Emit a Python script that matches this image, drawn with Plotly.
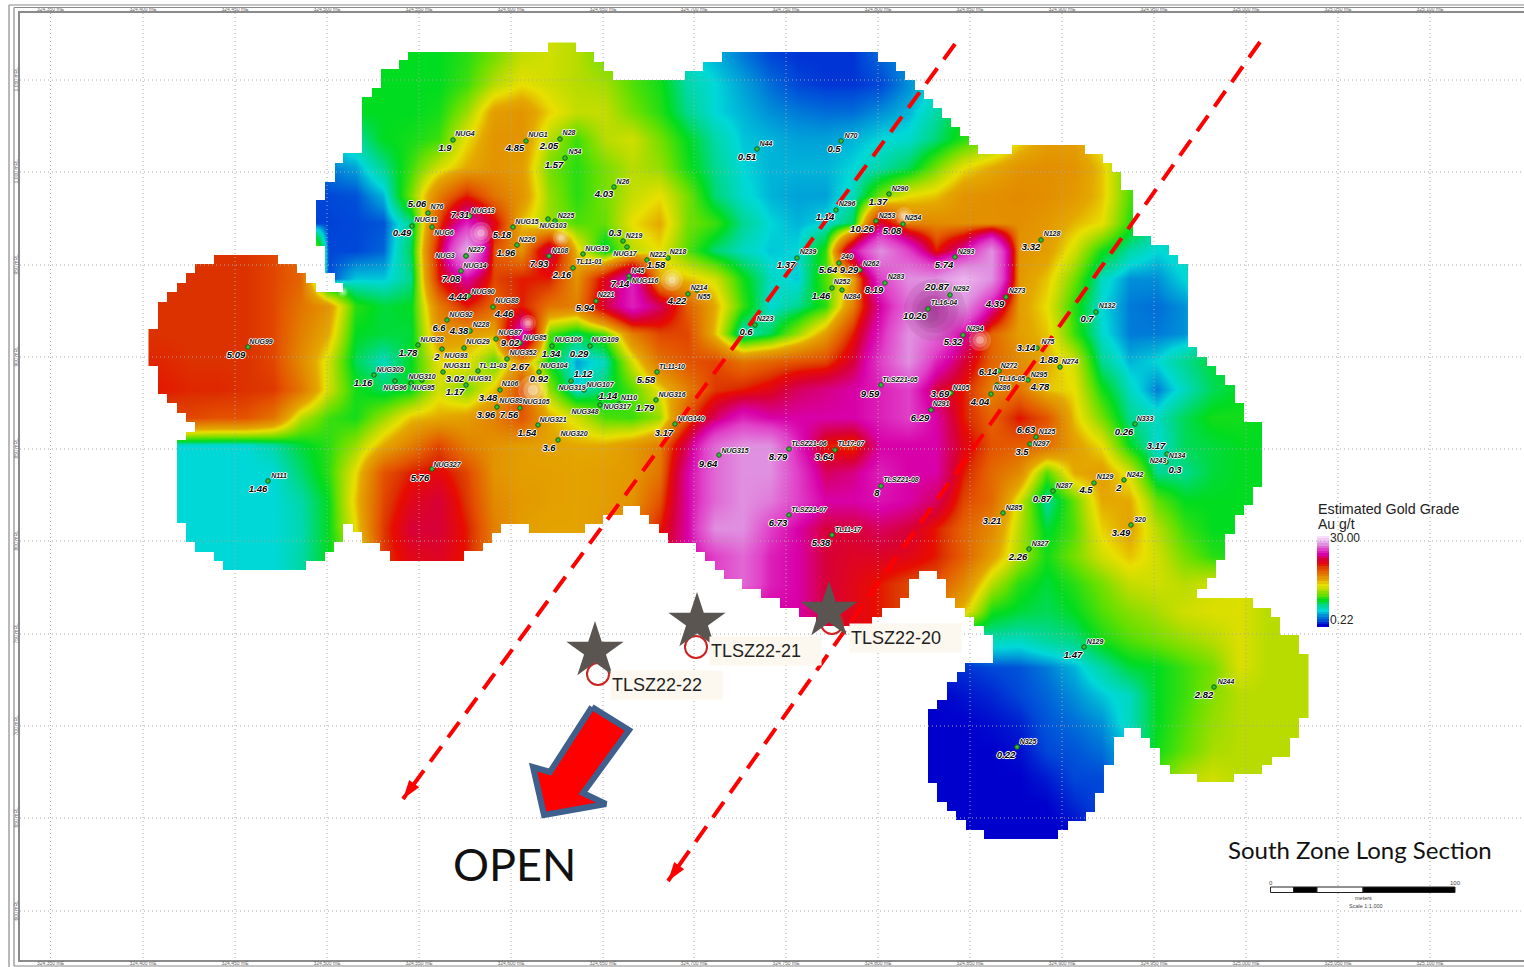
import plotly.graph_objects as go

# ---- section coordinates: 92 section units = 50 m ----
easting_ticks = [50.5, 143, 235, 327, 419, 511, 603, 694, 786, 878, 970, 1062, 1154, 1246, 1338, 1430]
easting_labels = ["324,350 mE", "324,400 mE", "324,450 mE", "324,500 mE", "324,550 mE", "324,600 mE", "324,650 mE", "324,700 mE", "324,750 mE",
                  "324,800 mE", "324,850 mE", "324,900 mE", "324,950 mE", "325,000 mE", "325,050 mE", "325,100 mE"]
elevation_ticks = [80, 172, 265, 357, 449, 541, 634, 726, 818, 911]
elevation_labels = ["1,050 mRL", "1,000 mRL", "950 mRL", "900 mRL", "850 mRL", "800 mRL", "750 mRL", "700 mRL", "650 mRL", "600 mRL"]

# ---- estimated grade (Au g/t) on the block-model nodes ----
grid_x0, grid_dx = 162.3, 27.63
grid_y0, grid_dy = 56.4, 27.75
F = [0.7] * 10 + [3.0] * 10
grade_grid = [
 [1.4,1.4,1.4,1.4,1.4,1.4,1.4,1.4,1.4,1.4, 1.4,1.6,2.0,2.5,2.6,2.4,2.0,1.9,1.4,0.7, 0.6,0.45,0.33,0.3,0.3,0.3,0.4,0.5,0.7,1.0, 1.4,1.4,1.4,1.4,1.4,1.4,1.4,1.4,1.4,1.4, 1.4,1.4],
 [1.4,1.4,1.4,1.4,1.4,1.4,1.4,1.4,1.4,1.4, 1.4,1.7,2.4,2.8,2.6,2.4,2.3,1.8,1.5,0.9, 0.7,0.55,0.42,0.33,0.3,0.3,0.33,0.5,0.7,1.0, 1.4,1.4,1.4,1.4,1.4,1.4,1.4,1.4,1.4,1.4, 1.4,1.4],
 [1.4,1.4,1.4,1.4,1.4,1.4,1.4,1.4,1.4,1.4, 1.5,2.2,3.4,3.6,2.9,2.5,2.5,2.0,1.6,1.0, 0.7,0.6,0.5,0.45,0.42,0.42,0.5,0.6,0.9,1.4, 1.6,1.8,1.9,1.9,1.8,1.4,1.4,1.4,1.4,1.4, 1.4,1.4],
 [1.0,1.0,1.0,1.0,1.0,1.0,0.7,0.9,1.4,1.5, 1.7,2.8,3.6,3.6,2.4,1.7,2.4,2.6,2.0,1.4, 0.9,0.65,0.6,0.55,0.55,0.6,0.7,0.75,1.1,1.6, 2.0,2.8,3.4,3.4,2.6,1.4,1.4,1.4,1.4,1.4, 1.4,1.4],
 [0.4,0.4,0.4,0.4,0.4,0.4,0.45,0.55,1.0,1.7, 2.6,3.2,3.6,3.4,2.0,1.6,2.0,2.4,2.2,1.5, 1.0,0.7,0.6,0.6,0.6,0.7,0.9,1.2,2.0,2.8, 3.2,3.6,3.7,3.6,3.0,1.8,1.4,1.4,1.4,1.4, 1.4,1.4],
 [0.33,0.33,0.33,0.33,0.33,0.33,0.33,0.35,0.6,2.0, 4.0,5.5,4.2,3.6,2.2,1.6,2.0,2.5,2.8,2.0, 1.1,0.75,0.6,0.55,0.55,0.8,2.0,2.8,3.0,3.6, 3.7,3.8,3.7,3.5,3.0,1.8,1.4,1.4,1.4,1.4, 1.4,1.4],
 [0.32,0.32,0.32,0.32,0.32,0.32,0.32,0.33,0.36,1.0, 5.0,9,6,3.0,2.2,1.8,1.9,2.8,3.2,2.0, 1.7,1.0,0.7,0.6,0.7,1.2,6.5,4.0,3.8,3.7, 3.7,3.7,3.5,3.1,2.8,1.6,0.9,1.2,1.2,1.2, 1.4,1.4],
 [5.3,5.3,5.3,5.3,5.0,4.5,0.33,0.33,0.4,1.2, 5.8,16,4.8,3.6,7,3.0,1.2,2.4,2.8,1.8, 1.1,0.8,0.65,0.7,1.6,8,14,10,5.5,8, 14,3.6,3.4,2.6,1.5,0.9,0.7,0.8,1.0,1.2, 1.4,1.4],
 [5.3,5.3,5.3,5.3,5.0,4.5,0.33,0.65,0.65,1.0, 5.5,8,5.0,5.5,5.5,3.6,6,9,3.2,3.0, 2.6,1.5,0.8,0.65,1.8,3.2,10,14,14,18, 14,3.5,3.0,2.0,0.8,0.5,0.5,0.7,1.0,1.2, 1.4,1.4],
 [5.3,5.3,5.3,5.3,5.0,4.2,3.6,1.6,1.3,1.4, 4.0,5.5,4.4,5.5,4.2,4.0,6.5,9,7,4.6, 3.2,1.7,0.7,1.0,1.6,4.0,8,12,10,14, 8,3.4,2.8,1.6,0.7,0.45,0.42,0.5,0.9,1.2, 1.4,1.4],
 [5.3,5.3,5.3,5.3,5.0,4.0,3.2,1.4,1.3,1.3, 3.6,3.4,3.2,9,1.8,1.2,1.8,4.0,5.0,5.0, 3.0,0.75,1.2,2.2,3.4,5.5,9,14,12,8, 4.5,3.4,3.0,1.7,0.75,0.45,0.45,0.5,0.9,1.2, 1.4,1.4],
 [5.4,5.3,5.3,5.3,5.0,3.8,2.6,1.2,0.8,1.4, 2.8,2.8,1.8,3.6,1.4,0.55,0.8,2.6,4.2,4.8, 5,4.2,4.5,4.8,5.0,6.5,10,14,9,6.5, 4.5,3.8,3.2,2.6,1.0,0.6,0.7,1.0,1.3,1.4, 1.4,1.4],
 [5.5,5.4,5.4,5.3,5.2,4.2,2.6,1.5,1.2,1.4, 2.6,2.0,3.0,5,2.2,0.7,1.2,1.8,2.8,4.0, 5.2,5.5,6,7,7.5,8,9,10,6.5,5.5, 3.9,4.2,3.0,2.8,1.5,0.8,0.45,0.8,1.2,1.4, 1.4,1.4],
 [5,5,4.8,4.8,4.2,2.4,1.7,1.5,2.2,3.0, 3.2,3.4,4.0,4.8,3.2,2.6,1.8,1.7,2.2,4.8, 7,9,8,8,8,8,9,10,8,5.5, 4.5,5.6,4.8,3.0,2.0,1.0,0.8,1.2,1.5,1.5, 1.4,1.4],
 [0.7,0.7,0.7,0.7,0.9,1.3,1.6,2.2,3.2,4.0, 5.0,4.0,3.6,3.4,3.3,3.2,3.2,3.5,4.0,7, 12,14,14,9,5.5,5.0,8,8,8,6, 4.8,4.6,4.4,3.4,2.8,1.4,0.7,1.2,1.3,1.4, 1.4,1.4],
 [0.7,0.7,0.7,0.7,0.7,1.1,1.6,2.8,4.8,5.5, 5.8,5.0,3.6,3.4,3.4,3.3,3.4,3.5,4.2,8, 12,14,14,10,7,7.5,9,8,8,5.5, 4.4,3.8,1.8,3.2,3.4,2.6,1.0,1.0,1.3,1.4, 1.4,1.4],
 [0.7,0.7,0.7,0.7,0.7,0.9,1.4,3.0,5.0,6.0, 6.5,5.2,3.8,3.5,3.4,3.3,3.4,3.6,4.8,8, 12,14,13,10,8,8,8.5,8,7,5, 4.4,2.6,0.9,1.9,3.2,3.2,1.9,1.4,1.4,1.4, 1.4,1.4],
 [0.7,0.7,0.7,0.7,0.7,0.85,1.4,2.8,5.2,6.5, 6.5,5.5,4.0,3.4,3.3,3.3,3.5,4,5.5,8, 14,14,10,8,6.5,6.5,7,6.5,5.5,4.5, 3.8,2.4,1.3,1.8,2.9,3.3,2.4,1.7,1.4,1.4, 1.4,1.4],
 [0.7,0.7,0.7,0.7,0.7,0.9,1.4,2.0,5.2,6, 6.2,5.5,4.0,3.4,3.3,3.3,3.6,4.5,6,8, 10,12,9,8,6.5,6.2,6.2,6,5.5,4.6, 3.4,2.3,1.5,2.0,2.6,3.0,2.6,2.0,1.6,1.5, 1.4,1.4],
 [0.7,0.7,0.7,0.7,0.7,0.9,1.4,2,5,6, 6,5,4,3.4,3.3,3.3,3.6,4.5,6,8, 10,12,9,8,6.5,6,5.5,5,4.8,3.8, 2.4,1.6,1.3,1.6,2.0,2.5,2.6,2.4,2.6,2.7, 2.4,2.4],
 F + [8,8,8,8,6.5,6,5.5,5,4,3, 1.5,1.3,1.2,1.4,1.8,2.1,2.3,2.6,2.7,2.7, 2.4,2.4],
 F + [8,8,8,8,6.5,6,5.5,4,0.3,0.35, 0.85,0.8,0.95,1.05,1.5,1.8,2.0,2.2,2.4,2.7, 2.4,2.4],
 F + [0.3,0.3,0.3,0.3,0.3,0.3,0.3,0.3,0.3,0.3, 0.33,0.36,0.45,0.6,0.9,1.3,1.4,1.7,2.0,2.7, 2.4,2.4],
 F + [0.22,0.22,0.22,0.22,0.22,0.22,0.22,0.22,0.22,0.25, 0.28,0.33,0.4,0.5,0.65,0.8,1.4,1.7,2.1,2.4, 2.4,2.4],
 F + [0.22,0.22,0.22,0.22,0.22,0.22,0.22,0.22,0.22,0.22, 0.24,0.27,0.36,0.42,0.5,0.8,1.4,1.8,2.2,2.4, 2.4,2.4],
 F + [0.22,0.22,0.22,0.22,0.22,0.22,0.22,0.22,0.22,0.22, 0.22,0.24,0.33,0.36,0.42,0.6,1.5,1.9,2.3,2.4, 2.4,2.4],
 F + [0.22,0.22,0.22,0.22,0.22,0.22,0.22,0.22,0.22,0.22, 0.22,0.22,0.26,0.33,0.33,0.6,1.8,2.4,2.6,2.4, 2.4,2.4],
 F + [0.22,0.22,0.22,0.22,0.22,0.22,0.22,0.22,0.22,0.22, 0.22,0.22,0.22,0.28,0.33,0.6,1.8,2.4,2.4,2.4, 2.4,2.4],
 F + [0.22,0.22,0.22,0.22,0.22,0.22,0.22,0.22,0.22,0.22, 0.22,0.22,0.22,0.22,0.3,0.6,1.8,2.4,2.4,2.4, 2.4,2.4],
]

# colour ramp: grade -> colour
scale_grades = [0.22, 0.33, 0.5, 0.7, 1.0, 1.4, 1.9, 2.4, 2.8, 3.2, 4.0, 4.8, 5.3, 5.6, 6.5, 8, 10, 14, 20, 30]
scale_colours = ["#0000cc", "#0048d8", "#0090d8", "#00d8d8", "#00d890", "#00dc20", "#64e000", "#b8dc00", "#e8e000", "#e4a800",
                 "#e28000", "#e45400", "#dc3200", "#e80c00", "#d80038", "#d800a8", "#e040c8", "#e090e0", "#f4c8f4", "#ffffff"]
legend_levels = [30, 24, 20, 17, 14, 12, 10, 9, 8, 7.2, 6.5, 6, 5.5, 5.1, 4.8, 4.4, 4.0, 3.6, 3.3, 3.0, 2.8, 2.6, 2.4, 2.1, 1.9, 1.6, 1.4, 1.2,
                 1.0, 0.85, 0.7, 0.6, 0.5, 0.42, 0.35, 0.28, 0.22]

# block-model footprint (stepped outline of the estimated area)
outline = [(362,153),(362,97),(372,97),(372,88),(381,88),(381,69),(399,69),(399,60),(408,60),(408,52),(548,52),(548,42),(576,42),(576,52),(594,52),(594,62),(604,62),(604,71),(613,71),(613,80),
 (685,80),(685,71),(703,71),(703,62),(722,62),(722,52),(878,52),(878,62),(896,62),(896,71),(905,71),(905,80),(915,80),(915,90),(924,90),(924,99),(933,99),(933,108),(942,108),(942,118),(951,118),(951,127),(960,127),(960,136),(969,136),(969,145),(978,145),(978,154),(1012,154),(1012,145),(1085,145),(1085,154),(1103,154),(1103,163),(1112,163),(1112,172),(1121,172),(1121,190),(1133,190),(1133,236),(1151,236),(1151,245),(1169,245),(1169,255),(1178,255),(1178,264),(1188,264),(1188,347),(1197,347),(1197,357),(1207,357),(1207,366),(1216,366),(1216,375),(1225,375),(1225,385),(1235,385),(1235,403),(1244,403),(1244,422),(1262,422),(1262,487),(1253,487),(1253,505),(1244,505),(1244,515),(1235,515),(1235,534),(1225,534),(1225,560),(1216,560),(1216,578),(1207,578),(1207,589),(1197,589),(1197,598),(1253,598),(1253,608),(1271,608),(1271,617),(1280,617),(1280,635),(1299,635),(1299,654),(1309,654),(1309,718),(1299,718),(1299,738),(1290,738),(1290,757),(1272,757),(1272,765),(1262,765),(1262,774),(1234,774),(1234,782),(1197,782),(1197,774),(1170,774),(1170,765),(1160,765),(1160,748),(1150,748),(1150,738),(1141,738),(1141,728),(1124,728),(1124,737),(1114,737),(1114,765),(1104,765),(1104,793),(1095,793),(1095,812),(1086,812),(1086,821),(1068,821),(1068,830),(1058,830),(1058,839),(984,839),(984,830),(966,830),(966,820),(956,820),(956,811),(947,811),(947,802),(937,802),(937,783),(928,783),(928,709),(937,709),(937,700),(947,700),(947,682),(957,682),(957,672),(965,672),(965,663),(993,663),(993,635),(984,635),(984,626),(974,626),(974,617),(965,617),(965,608),(955,608),(955,598),(946,598),(946,579),(937,579),(937,571),(919,571),(919,579),(909,579),(909,598),(900,598),(900,608),(882,608),(882,617),(872,617),(872,626),(816,626),(816,617),(799,617),(799,608),(780,608),(780,598),(761,598),(761,589),(742,589),(742,579),(724,579),(724,570),(715,570),(715,561),(705,561),(705,552),(696,552),(696,543),(668,543),(668,533),(659,533),(659,524),(649,524),(649,515),(640,515),(640,506),(623,506),(623,515),(603,515),(603,524),(585,524),(585,533),(529,533),(529,524),(501,524),(501,533),(492,533),(492,543),(483,543),(483,551),(464,551),(464,561),(390,561),(390,551),(380,551),(380,543),(362,543),(362,532),(353,532),(353,524),(343,524),(343,542),(334,542),(334,552),(325,552),(325,561),(306,561),(306,570),(223,570),(223,561),(214,561),(214,552),(195,552),(195,542),(186,542),(186,523),(177,523),(177,440),(186,440),(186,432),(195,432),(195,422),(186,422),(186,413),(177,413),(177,403),(167,403),(167,394),(158,394),(158,366),(148,366),(148,329),(158,329),(158,302),(167,302),(167,292),(177,292),(177,283),(186,283),(186,273),(195,273),(195,264),(214,264),(214,255),(278,255),(278,264),(297,264),(297,273),(306,273),(306,283),(316,283),(316,292),(343,292),(343,283),(335,283),(335,273),(325,273),(325,246),(316,246),(316,200),(325,200),(325,182),(335,182),(335,163),(343,163),(343,153),(362,153)]
# window left in the white surround for the legend ramp
legend_box_x = [1317, 1329, 1329, 1317, 1317]
legend_box_y = [533, 533, 627, 627, 533]

# bright / dark relief spots of the shaded surface
glow_x = [481, 561, 672, 533, 528, 980, 904, 343]
glow_y = [233, 238, 280, 390, 323, 340, 216, 292]
glow_size = [22, 16, 22, 30, 16, 22, 18, 10]
shade_x = [935, 935, 932, 930]
shade_y = [310, 310, 312, 314]
shade_size = [62, 46, 32, 18]

# ---- drill holes ----
hole_names = ["NUG4","NUG1","N28","N54","N26","N76","NUG13","NUG11","NUG6","N227","NUG3","NUG14","NUG15","N225","NUG103","N226","N108","NUG19","TL11-01","N219","NUG17","N222","N218","N45","NUG116","N214","N55","N221","NUG90","NUG88","NUG92","N228","NUG87","NUG85","NUG28","NUG29","NUG93","NUG352","NUG106","NUG109","NUG311","TL 11-03","NUG104","NUG309","NUG96","NUG310","NUG95","NUG91","N106","NUG89","NUG105","NUG319","NUG107","N110","NUG317","NUG348","NUG316","TL11-10","NUG321","NUG320","NUG140","N111","NUG99","NUG327","N44","N70","N290","N296","N253","N254","N239","240","N262","N293","N283","N252","N284","N292","TL16-04","N273","N223","N294","N128","N132","N75","N274","N272","N295","TL16-05","N286","N105","N291","TLSZ21-05","N125","N297","N333","N134","N243","N287","N129","N242","320","N285","N327","N129","N244","N325","NUG315","TLSZ21-06","TL17-07","TLSZ21-08","TLSZ21-07","TL11-17"]
hole_x = [453,526,560,565,614,428,470,412,432,466,466,461,513,555,548,517,549,583,573,623,627,647,668,629,629,688,697,596,469,493,447,470,496,520,418,464,442,507,552,590,443,478,539,374,395,422,411,466,500,497,520,571,584,619,600,600,656,657,538,558,675,268,248,432,757,841,889,836,876,903,797,839,860,955,885,832,842,950,928,1006,755,963,1041,1096,1037,1060,999,1028,997,991,951,931,881,1036,1030,1135,1167,1166,1053,1094,1124,1131,1003,1029,1084,1214,1017,719,789,835,881,789,832]
hole_y = [140,141,139,158,187,213,216,226,227,256,256,271,227,221,219,245,256,254,268,241,247,260,258,276,280,294,290,301,296,307,320,331,339,343,345,348,349,359,346,346,372,371,372,375,381,380,383,385,390,407,408,381,390,404,405,398,400,372,425,440,424,481,347,469,149,141,194,210,221,224,258,263,270,257,283,288,290,295,309,297,325,335,240,312,348,367,371,380,385,394,393,410,385,437,444,424,454,462,491,483,480,525,513,549,647,687,747,455,449,450,486,515,535]
name_x = [465,538,569,575,623,437,483,426,444,476,445,475,527,566,553,527,560,597,589,634,625,658,678,638,645,699,704,606,483,507,461,481,510,535,432,478,456,523,568,605,457,493,554,390,395,422,423,480,510,511,536,572,600,629,617,585,672,672,553,574,691,279,261,447,766,851,900,847,887,913,808,847,871,966,896,842,852,961,944,1017,765,975,1052,1107,1048,1070,1009,1039,1012,1002,961,941,900,1047,1041,1145,1177,1158,1064,1105,1135,1140,1014,1040,1095,1226,1028,735,809,851,901,809,848]
name_y = [134,135,133,152,182,207,211,220,233,250,256,266,222,216,226,240,251,249,262,236,254,255,252,271,281,288,297,295,292,301,315,325,333,338,340,342,356,353,340,340,366,366,366,370,388,377,388,379,384,401,402,388,385,398,407,412,395,367,420,434,419,476,342,465,144,136,189,204,216,218,252,257,264,252,277,282,297,289,303,291,319,329,234,306,342,362,366,375,379,388,388,404,380,432,444,419,456,461,486,477,475,520,508,544,642,682,742,451,444,444,480,510,530]

grade_text = ["1.9","4.85","2.05","1.57","4.03","5.06","7.31","0.49","7.08","5.18","1.96","7.93","2.16","0.3","1.58","7.14","4.22","5.94","4.44","4.46","6.6","4.38","9.02","1.78","2","2.67","1.34","0.29","3.02","0.92","1.16","1.17","3.48","3.96","7.56","1.12","1.14","1.79","5.58","1.54","3.6","3.17","1.46","5.09","5.76","0.51","0.5","1.37","1.14","10.26","5.08","1.37","5.64","9.29","5.74","8.19","1.46","20.87","10.26","4.39","0.6","5.32","3.32","0.7","3.14","1.88","6.14","4.78","4.04","3.69","6.29","9.59","6.63","3.5","0.26","3.17","0.3","0.87","4.5","2","3.49","3.21","2.26","1.47","2.82","0.22","9.64","8.79","3.64","8","6.73","5.38"]
grade_x = [445,515,549,554,604,417,460,402,451,502,506,539,562,615,656,620,677,585,458,504,439,459,510,408,437,520,551,579,455,539,363,455,488,486,509,583,608,645,646,527,549,664,258,236,420,747,834,878,825,862,892,786,828,849,944,874,821,937,915,995,746,953,1031,1087,1026,1049,988,1040,980,940,920,870,1026,1022,1124,1156,1175,1042,1086,1119,1121,992,1018,1073,1204,1006,708,778,824,877,778,821]
grade_y = [149,149,147,166,195,205,216,234,280,236,254,265,276,234,266,285,302,309,298,315,329,332,344,354,358,368,355,355,380,380,384,393,399,416,416,375,397,409,381,434,449,434,490,356,479,158,150,203,218,230,232,266,271,271,266,291,297,288,317,305,333,343,248,320,349,361,373,388,403,395,419,395,431,453,433,447,471,500,491,489,534,522,558,656,696,756,465,458,458,494,524,544]

# ---- drilling targets ----
target_names = ["TLSZ22-22", "TLSZ22-21", "TLSZ22-20"]
star_x = [595, 697, 829]
star_y = [651, 622, 611]
pierce_x = [598, 696, 832]
pierce_y = [674, 647, 623]
target_label_x = [612, 711, 851]
target_label_y = [685, 651, 638]

# ---- structural trends and open direction ----
trend1_x, trend1_y = [955, 403], [44, 799]
trend2_x, trend2_y = [1260, 668], [42, 881]
open_arrow_x = [592, 629, 583, 606, 544, 533, 550, 592]
open_arrow_y = [707, 730, 793, 804, 815, 767, 772, 707]

# ---- scale bar ----
scale_edges = [1270.5, 1293.5, 1317, 1363, 1455]
scale_fills = ["white", "black", "white", "black"]

fig = go.Figure()

# estimated grade surface
fig.add_trace(go.Heatmap(z=grade_grid, x0=grid_x0, dx=grid_dx, y0=grid_y0, dy=grid_dy, coloraxis="coloraxis",
                         zsmooth="best", hoverinfo="skip"))
# legend ramp (heatmaps sit below scatter layers, so the white surround keeps a window for it)
fig.add_trace(go.Heatmap(z=[[v] for v in legend_levels], x0=1323, dx=12, y0=534.3, dy=2.54, coloraxis="coloraxis",
                         zsmooth=False, hoverinfo="skip"))
# relief
fig.add_trace(go.Scatter(x=glow_x, y=glow_y, mode="markers", hoverinfo="skip",
                         marker=dict(size=glow_size, color="rgba(255,255,235,0.28)", line=dict(width=0))))
fig.add_trace(go.Scatter(x=glow_x, y=glow_y, mode="markers", hoverinfo="skip",
                         marker=dict(size=[s * 0.65 for s in glow_size], color="rgba(255,255,235,0.35)", line=dict(width=0))))
fig.add_trace(go.Scatter(x=glow_x, y=glow_y, mode="markers", hoverinfo="skip",
                         marker=dict(size=[s * 0.35 for s in glow_size], color="rgba(255,255,245,0.5)", line=dict(width=0))))
fig.add_trace(go.Scatter(x=shade_x, y=shade_y, mode="markers", hoverinfo="skip",
                         marker=dict(size=shade_size, color="rgba(70,50,70,0.14)", line=dict(width=0))))
# white surround with the footprint and the legend window cut out
ox = [p[0] for p in outline]
oy = [p[1] for p in outline]
fig.add_trace(go.Scatter(x=[20, 20, 1524, 1524, 20] + ox + [ox[0], 20] + legend_box_x + [20],
                         y=[13, 960, 960, 13, 13] + oy + [oy[0], 13] + legend_box_y + [13],
                         mode="lines", fill="toself", fillcolor="white", line=dict(width=0, simplify=False), hoverinfo="skip"))
# dotted grid over everything painted so far
gx, gy = [], []
for v in easting_ticks:
    gx += [v, v, None]
    gy += [13, 960, None]
for v in elevation_ticks:
    gx += [20, 1524, None]
    gy += [v, v, None]
fig.add_trace(go.Scatter(x=gx, y=gy, mode="lines", line=dict(color="#a8a8a8", width=1, dash="1px,3px"), hoverinfo="skip"))

# trends
for tx, ty in ((trend1_x, trend1_y), (trend2_x, trend2_y)):
    fig.add_trace(go.Scatter(x=tx, y=ty, mode="lines", line=dict(color="#ff0000", width=4, dash="19px,11px"), hoverinfo="skip"))
    fig.add_trace(go.Scatter(x=[tx[-1]], y=[ty[-1]], mode="markers", hoverinfo="skip",
                             marker=dict(symbol="arrow", angle=216, size=20, color="#ff0000", line=dict(width=0))))

# drill holes
fig.add_trace(go.Scatter(x=hole_x, y=hole_y, mode="markers", text=hole_names, hoverinfo="text",
                         marker=dict(size=4.5, color="#2fc42f", line=dict(color="#14601e", width=1))))
halo = "1px 0 0 #fff,-1px 0 0 #fff,0 1px 0 #fff,0 -1px 0 #fff"
fig.add_trace(go.Scatter(x=name_x, y=name_y, mode="text", text=hole_names, hoverinfo="skip",
                         textfont=dict(family="Liberation Sans", size=7, color="#111", style="italic", weight="bold", shadow=halo)))
fig.add_trace(go.Scatter(x=grade_x, y=grade_y, mode="text", text=grade_text, hoverinfo="skip",
                         textfont=dict(family="Liberation Sans", size=9.5, color="#000", style="italic", weight="bold", shadow=halo)))

# targets
fig.add_trace(go.Scatter(x=pierce_x, y=pierce_y, mode="markers", hoverinfo="skip",
                         marker=dict(symbol="circle-open", size=22, color="#cc2222", line=dict(color="#cc2222", width=2))))
fig.add_trace(go.Scatter(x=star_x, y=star_y, mode="markers", hoverinfo="skip",
                         marker=dict(symbol="star", size=43, color="#5a5550", line=dict(width=0))))
# open arrow
fig.add_trace(go.Scatter(x=open_arrow_x, y=open_arrow_y, mode="lines", fill="toself", fillcolor="#ff0000",
                         line=dict(color="#3f5f8c", width=6), hoverinfo="skip"))

# dummy on the top axis so its labels show
fig.add_trace(go.Scatter(x=[easting_ticks[0]], y=[elevation_ticks[0]], xaxis="x2", mode="markers", marker=dict(opacity=0), hoverinfo="skip"))

ann = []
for name, lx, ly in zip(target_names, target_label_x, target_label_y):
    ann.append(dict(x=lx - 2, y=ly, text=name, xanchor="left", yanchor="middle", showarrow=False, align="left", width=109, height=26,
                    bgcolor="#fdf8ef", font=dict(family="Liberation Sans", size=18, color="#222")))
def label(x, y, text, size, family="Liberation Sans", color="#222", xanchor="left"):
    ann.append(dict(x=x, y=y, text=text, xanchor=xanchor, yanchor="middle", showarrow=False, font=dict(family=family, size=size, color=color)))
label(1316, 509, "Estimated Gold Grade", 14.3)
label(1316, 524, "Au g/t", 14)
label(1328, 538, "30.00", 12)
label(1328, 620, "0.22", 12)
label(1226, 849, "South Zone Long Section", 24, "Lato", "#111")
label(451, 864, "OPEN", 45, "Lato", "#111")
label(1271, 883, "0", 6, color="#444", xanchor="center")
label(1455, 883, "100", 6, color="#444", xanchor="center")
label(1363, 897.5, "meters", 5.5, color="#444", xanchor="center")
label(1366, 906, "Scale 1:1,000", 5.5, color="#444", xanchor="center")

shapes = []
for a, b, c in zip(scale_edges[:-1], scale_edges[1:], scale_fills):
    shapes.append(dict(type="rect", xref="x", yref="y", x0=a, x1=b, y0=887, y1=892.5, fillcolor=c, line=dict(color="#222", width=1)))
# map sheet frames, placed on the page (outside the plot area)
def px(v):
    return (v - 20) / 1504
def py(v):
    return 1 - (v - 13) / 947
for x0, y0, x1, y1 in [(9, 5, 9, 967), (9, 5, 1524, 5), (14, 7.5, 14, 966), (14, 7.5, 1524, 7.5), (14, 966, 1524, 966)]:
    shapes.append(dict(type="line", xref="paper", yref="paper", x0=px(x0), x1=px(x1), y0=py(y0), y1=py(y1), line=dict(color="#8a8a8a", width=1.2)))

tickfont = dict(family="Liberation Sans", size=5, color="#666")
fig.update_layout(
    width=1524, height=967, margin=dict(l=20, r=0, t=13, b=7, pad=0), paper_bgcolor="white", plot_bgcolor="white", showlegend=False,
    coloraxis=dict(cmin=0.22, cmax=30, showscale=False,
                   colorscale=[[(g - 0.22) / 29.78, c] for g, c in zip(scale_grades, scale_colours)]),
    xaxis=dict(range=[20, 1524], tickmode="array", tickvals=easting_ticks, ticktext=easting_labels, showgrid=False, zeroline=False,
               showline=True, mirror=True, linecolor="#8a8a8a", linewidth=1.5, ticks="", tickfont=tickfont, ticklabelstandoff=-3, automargin=False),
    xaxis2=dict(range=[20, 1524], overlaying="x", side="top", tickmode="array", tickvals=easting_ticks, ticktext=easting_labels,
                showgrid=False, zeroline=False, ticks="", tickfont=tickfont, automargin=False),
    yaxis=dict(range=[960, 13], tickmode="array", tickvals=elevation_ticks, ticktext=elevation_labels, showgrid=False, zeroline=False,
               showline=True, mirror=True, linecolor="#8a8a8a", linewidth=1.5, ticks="", tickangle=-90, tickfont=tickfont, ticklabelstandoff=-2, automargin=False),
    annotations=ann, shapes=shapes,
)
fig.write_html("out.html", config={"displayModeBar": False},
               post_script="document.body.style.margin='0';document.documentElement.style.overflow='hidden';")
